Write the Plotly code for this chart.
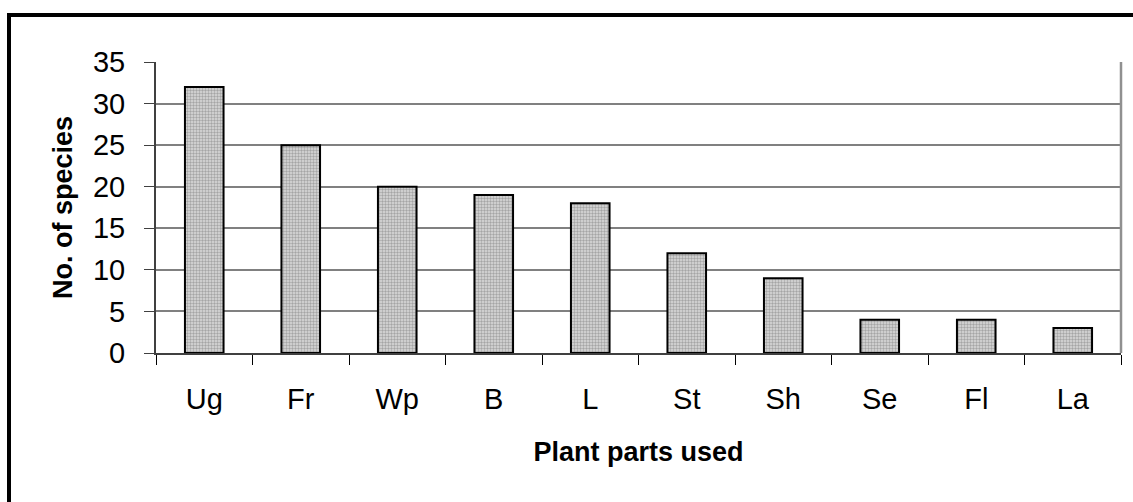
import plotly.graph_objects as go

categories = ["Ug", "Fr", "Wp", "B", "L", "St", "Sh", "Se", "Fl", "La"]
species_counts = [32, 25, 20, 19, 18, 12, 9, 4, 4, 3]
y_ticks = [0, 5, 10, 15, 20, 25, 30, 35]

W, H = 1133, 502
L, R, T, B = 156, 12, 62, 149
pw, ph = W - L - R, H - T - B

fig = go.Figure(go.Bar(
    x=categories, y=species_counts, width=0.4,
    marker=dict(color="#c8c8c8",
                line=dict(color="black", width=2),
                pattern=dict(shape=".", fgcolor="#6e6e6e", bgcolor="#dcdcdc", size=3, solidity=0.5)),
))

fig.update_layout(
    width=W, height=H,
    margin=dict(l=L, r=R, t=T, b=B),
    paper_bgcolor="white", plot_bgcolor="white",
    font=dict(family="Arial, Liberation Sans, sans-serif", color="black"),
    showlegend=False,
    bargap=0.6,
)
fig.update_xaxes(
    type="category", tickson="boundaries", ticks="outside", ticklen=10, tickwidth=1, tickcolor="black",
    showline=True, linecolor="#404040", linewidth=2, showgrid=False,
    tickfont=dict(size=29), ticklabelstandoff=19,
    title=dict(text="<b>Plant parts used</b>", font=dict(size=27), standoff=28),
)
fig.update_yaxes(
    range=[0, 35], tickvals=y_ticks, ticks="outside", ticklen=10, tickwidth=1, tickcolor="#404040",
    showline=True, linecolor="#404040", linewidth=2,
    showgrid=True, gridcolor="#808080", gridwidth=1.5, zeroline=False,
    tickfont=dict(size=29), ticklabelstandoff=13,
    title=dict(text="<b>No. of species</b>", font=dict(size=27), standoff=12),
)

# right border of plot area
fig.add_shape(type="line", xref="paper", yref="paper", x0=1, x1=1, y0=0, y1=1,
              line=dict(color="#909090", width=2.5))

# outer chart frame (thick black, extends past right/bottom edges)
fx = (9 - L) / pw
fy = 1 + (T - 15) / ph
fig.add_shape(type="rect", xref="paper", yref="paper", x0=fx, x1=1 + 40 / pw, y0=-(B + 40) / ph, y1=fy,
              line=dict(color="black", width=4), fillcolor="rgba(0,0,0,0)", layer="above")

fig.write_html("out.html", config={"displayModeBar": False},
               post_script="document.body.style.margin='0';document.body.style.overflow='hidden';")
